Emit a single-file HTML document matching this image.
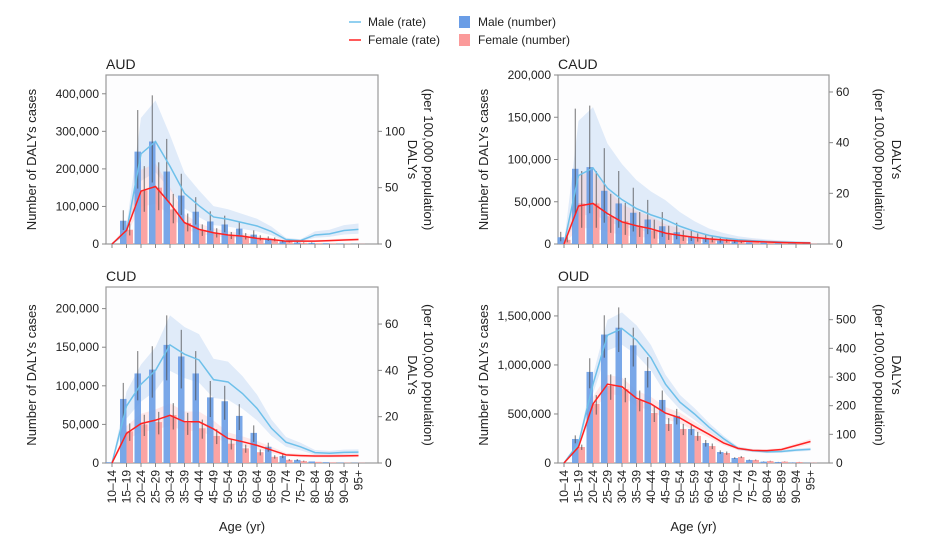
<!DOCTYPE html>
<html><head><meta charset="utf-8">
<style>
body{margin:0;background:#fff;font-family:"Liberation Sans",sans-serif;}
svg{display:block}
text{font-family:"Liberation Sans",sans-serif;fill:#222}
</style></head>
<body>
<svg id="chart" width="928" height="541" viewBox="0 0 928 541">
<g>
 <line x1="349" y1="22" x2="361" y2="22" stroke="#6ec0ea" stroke-width="1.5"/>
 <text x="368" y="26" font-size="12">Male (rate)</text>
 <line x1="349" y1="40" x2="361" y2="40" stroke="#f22" stroke-width="1.5"/>
 <text x="368" y="44" font-size="12">Female (rate)</text>
 <rect x="459" y="16" width="11" height="12" fill="#6a9de6"/>
 <text x="478" y="26" font-size="12">Male (number)</text>
 <rect x="459" y="34" width="11" height="12" fill="#fb9a9a"/>
 <text x="478" y="44" font-size="12">Female (number)</text>
</g>
</svg>
<script>
const ages = ["10–14","15–19","20–24","25–29","30–34","35–39","40–44","45–49","50–54","55–59","60–64","65–69","70–74","75–79","80–84","85–89","90–94","95+"];

const audMaleNum = [0,62000,246000,273000,193000,129000,86000,60000,52000,41000,25000,14000,7000,4000,3000,2000,1000,500];
const audFemaleNum = [0,38000,143000,150000,92000,56000,36000,29000,22000,20000,16000,12000,7000,3000,2000,1500,1000,500];
const audMaleRate = [0,11,80,91,69,45,34,24,22,19,16,11,4,3,8,9,12,13];
const audFemaleRate = [0,12,47,51,36,19,13,10,8,7,5,4,2.5,2.5,2.5,3,3.5,4];

const caudMaleNum = [8000,89000,91000,63000,48000,37000,29000,21000,14000,9000,6000,4000,2800,2000,1500,1000,500,300];
const caudFemaleNum = [5000,48000,48000,33000,27000,21000,16000,12000,9000,7000,5000,4000,2500,1800,1200,800,500,300];
const caudMaleRate = [0,27,30,22,17.5,14,11.5,9.6,7,5,3.4,2.4,1.7,1.3,1,0.8,0.6,0.5];
const caudFemaleRate = [0,15,16,12,8.7,7.2,6,4.3,3.4,2.6,2,1.6,1.2,1,0.8,0.6,0.5,0.4];

const cudMaleNum = [1000,83000,116000,121000,153000,138000,116000,85000,80000,61000,39000,21000,9000,4000,2000,1000,500,300];
const cudFemaleNum = [0,41000,50000,53000,62000,52000,45000,35000,25000,19000,14000,8000,4000,2500,1500,800,500,300];
const cudMaleRate = [0,24.6,34,40,51,47,44.5,36,35,30,23.6,15,9,7,4.5,4.2,4.6,4.7];
const cudFemaleRate = [0,12.8,17,18.5,20.6,17.8,17.8,14.7,10.6,9.2,7.6,5.6,3.5,3.2,3,3,3.1,3.2];

const oudMaleNum = [0,245000,929000,1310000,1380000,1200000,939000,643000,480000,347000,204000,112000,51000,31000,14000,10000,5000,2000];
const oudFemaleNum = [0,163000,602000,786000,755000,643000,510000,398000,347000,276000,173000,102000,61000,31000,20000,14000,10000,3000];
const oudMaleRate = [0,68,275,446,469,429,367,275,212,171,125,85,51,43,39,40,45,48];
const oudFemaleRate = [0,56,206,275,266,226,206,174,157,128,100,70,51,44,43,47,61,75];

const leftTicksAUD = [0,100000,200000,300000,400000];
const rightTicksAUD = [0,50,100];
const leftTicksCAUD = [0,50000,100000,150000,200000];
const rightTicksCAUD = [0,20,40,60];
const leftTicksCUD = [0,50000,100000,150000,200000];
const rightTicksCUD = [0,20,40,60];
const leftTicksOUD = [0,500000,1000000,1500000];
const rightTicksOUD = [0,100,200,300,400,500];

const NS="http://www.w3.org/2000/svg";
const svg=document.getElementById('chart');
function mk(tag,attrs,parent){const e=document.createElementNS(NS,tag);for(const k in attrs)e.setAttribute(k,attrs[k]);(parent||svg).appendChild(e);return e;}
function fmt(v){return v.toLocaleString('en-US');}

const panels=[
 {key:'aud',title:'AUD',L:106,R:378,T:75,B:244,x0:112,lmax:450000,rmax:150,mN:audMaleNum,fN:audFemaleNum,mR:audMaleRate,fR:audFemaleRate,lt:leftTicksAUD,rt:rightTicksAUD,hi:1.4,lo:0.7,ehi:1.45,elo:0.6,xl:false,t1:413,t2:429},
 {key:'caud',title:'CAUD',L:558,R:829,T:75,B:244,x0:564,lmax:200000,rmax:66.7,mN:caudMaleNum,fN:caudFemaleNum,mR:caudMaleRate,fR:caudFemaleRate,lt:leftTicksCAUD,rt:rightTicksCAUD,hi:1.8,lo:0.4,ehi:1.8,elo:0.4,xl:false,t1:897,t2:880},
 {key:'cud',title:'CUD',L:106,R:378,T:287,B:463,x0:112,lmax:228000,rmax:76,mN:cudMaleNum,fN:cudFemaleNum,mR:cudMaleRate,fR:cudFemaleRate,lt:leftTicksCUD,rt:rightTicksCUD,hi:1.25,lo:0.78,ehi:1.25,elo:0.7,xl:true,t1:413,t2:429},
 {key:'oud',title:'OUD',L:558,R:829,T:287,B:463,x0:564,lmax:1795000,rmax:614,mN:oudMaleNum,fN:oudFemaleNum,mR:oudMaleRate,fR:oudFemaleRate,lt:leftTicksOUD,rt:rightTicksOUD,hi:1.12,lo:0.88,ehi:1.15,elo:0.82,xl:true,t1:897,t2:880}
];

panels.forEach(p=>{
 const g=mk('g',{});
 
 
 const step=14.5;
 const X=i=>p.x0+i*step;
 const YL=v=>p.B-(v/p.lmax)*(p.B-p.T);
 const YR=v=>p.B-(v/p.rmax)*(p.B-p.T);
 const t=mk('text',{x:p.L,y:p.T-6,'font-size':14},g);t.textContent=p.title;
 
 
 mk('rect',{x:p.L,y:p.T,width:p.R-p.L,height:p.B-p.T,fill:'#fdfdfe',stroke:'#999','stroke-width':1.2},g);
 const band=(arr,col,nm)=>{
  let up=arr.map((v,i)=>X(i)+','+YR(Math.min(v*p.hi,p.rmax))).join(' ');
  let dn=arr.map((v,i)=>X(i)+','+YR(v*p.lo)).reverse().join(' ');
  const e=mk('polygon',{points:up+' '+dn,fill:col},g);
  
  
 };
 band(p.mR,'rgba(170,200,240,0.35)',p.key+'-male-rate-band');
 band(p.fR,'rgba(255,170,170,0.25)',p.key+'-female-rate-band');
 const drawBars=(arr,off,col,sex)=>{
  arr.forEach((v,i)=>{
   const y=YL(v);
   const r=mk('rect',{x:X(i)+off,y:y,width:6.5,height:p.B-y,fill:col,opacity:0.9},g);
   
   
   if(v>2000){
    const cx=X(i)+off+3.25;
    const l=mk('line',{x1:cx,x2:cx,y1:YL(Math.min(v*p.ehi,p.lmax)),y2:YL(v*p.elo),stroke:'#444','stroke-width':1,opacity:0.75},g);
    
    
   }
  });
 };
 drawBars(p.mN,-6.5,'#6a9de6','male');
 drawBars(p.fN,0,'#fb9a9a','female');
 const line=(arr,col,nm)=>{
  const e=mk('polyline',{points:arr.map((v,i)=>X(i)+','+YR(v)).join(' '),fill:'none',stroke:col,'stroke-width':1.5},g);
  
  
 };
 line(p.mR,'#6ec0ea',p.key+'-male-rate-line');
 line(p.fR,'#f22',p.key+'-female-rate-line');
 p.lt.forEach(v=>{
  const y=YL(v);
  mk('line',{x1:p.L-4,x2:p.L,y1:y,y2:y,stroke:'#888'},g);
  const tx=mk('text',{x:p.L-7,y:y+4,'font-size':12,'text-anchor':'end'},g);tx.textContent=fmt(v);
  
  
 });
 p.rt.forEach(v=>{
  const y=YR(v);
  mk('line',{x1:p.R,x2:p.R+4,y1:y,y2:y,stroke:'#888'},g);
  const tx=mk('text',{x:p.R+7,y:y+4,'font-size':12},g);tx.textContent=fmt(v);
  
  
 });
 ages.forEach((a,i)=>{
  mk('line',{x1:X(i),x2:X(i),y1:p.B,y2:p.B+4,stroke:'#888'},g);
  if(p.xl){
   const tx=mk('text',{x:0,y:0,'font-size':12,'text-anchor':'end',transform:`translate(${X(i)+4},${p.B+7}) rotate(-90)`},g);
   tx.textContent=a;
   
   
  }
 });
 const mid=(p.T+p.B)/2;
 const yt=mk('text',{x:0,y:0,'font-size':13,'text-anchor':'middle',transform:`translate(${p.L-70},${mid}) rotate(-90)`},g);
 yt.textContent='Number of DALYs cases';
 
 
 const r1=mk('text',{x:0,y:0,'font-size':13,'text-anchor':'middle',transform:`translate(${p.t1-5},${mid}) rotate(90)`},g);
 r1.textContent='DALYs';
 
 
 const r2=mk('text',{x:0,y:0,'font-size':13,'text-anchor':'middle',transform:`translate(${p.t2-5},${mid}) rotate(90)`},g);
 r2.textContent='(per 100,000 population)';
 
 
 if(p.xl){
  const xt=mk('text',{x:(p.L+p.R)/2,y:531,'font-size':13,'text-anchor':'middle'},g);
  xt.textContent='Age (yr)';
  
  
 }
});
</script>
</body></html>
